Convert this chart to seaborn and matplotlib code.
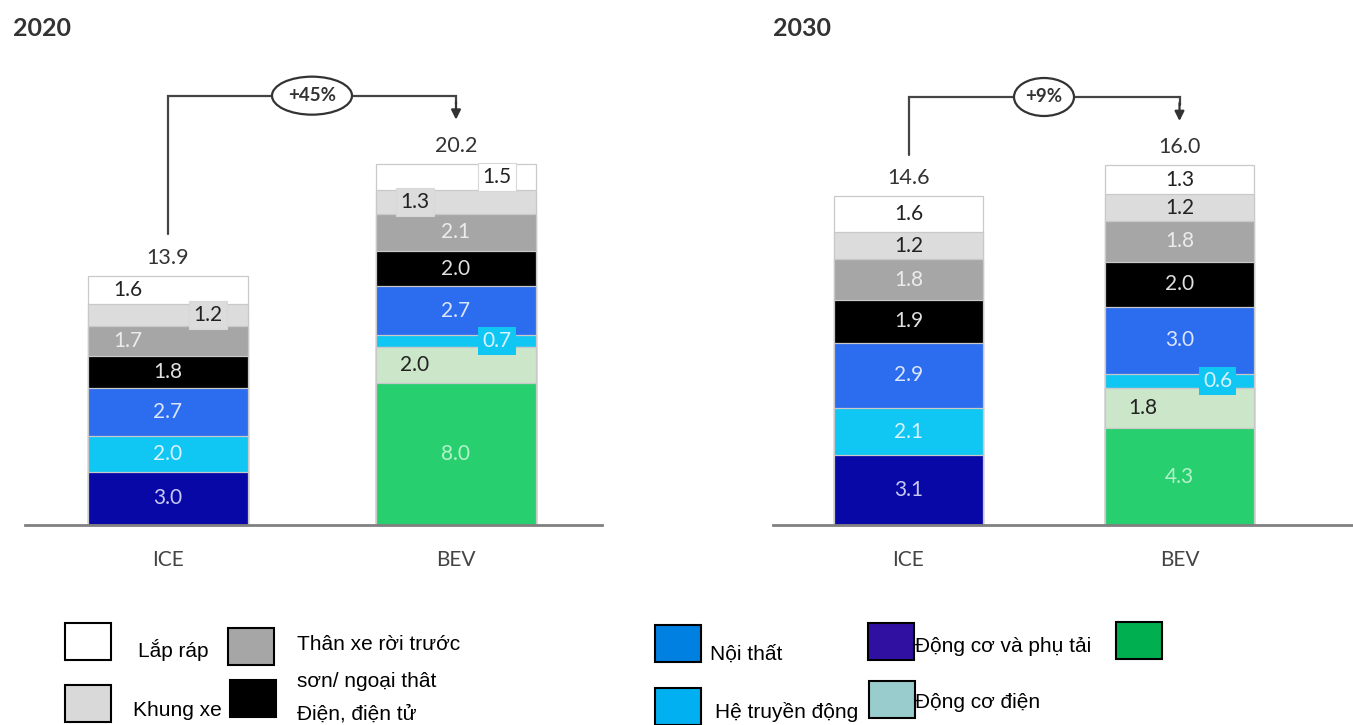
import numpy as np
import pandas as pd
import matplotlib
matplotlib.use("Agg")
import matplotlib.pyplot as plt
from matplotlib.patches import Ellipse, Rectangle
import seaborn as sns

# ---- data -------------------------------------------------------------
cars = ["ICE", "BEV"]
# components, bottom -> top
components = ["battery", "emotor", "engine", "transmission", "interior",
              "electrics", "body", "chassis", "assembly"]

vals_2020_ice = [0.0, 0.0, 3.0, 2.0, 2.7, 1.8, 1.7, 1.2, 1.6]
vals_2020_bev = [8.0, 2.0, 0.0, 0.7, 2.7, 2.0, 2.1, 1.3, 1.5]
vals_2030_ice = [0.0, 0.0, 3.1, 2.1, 2.9, 1.9, 1.8, 1.2, 1.6]
vals_2030_bev = [4.3, 1.8, 0.0, 0.6, 3.0, 2.0, 1.8, 1.2, 1.3]

totals_2020 = ["13.9", "20.2"]
totals_2030 = ["14.6", "16.0"]
change_2020 = "+45%"
change_2030 = "+9%"

bar_colors = {"battery": "#27cf6f", "emotor": "#cbe6c9", "engine": "#0808a6",
              "transmission": "#10c6f2", "interior": "#2c6cef",
              "electrics": "#000000", "body": "#a6a6a6", "chassis": "#dcdcdc",
              "assembly": "#ffffff"}
text_colors = {"battery": "#b4f2cc", "emotor": "#222222", "engine": "#c8c8f4",
               "transmission": "#d8f4ff", "interior": "#dde6ff",
               "electrics": "#e0e0e0", "body": "#ececec", "chassis": "#222222",
               "assembly": "#222222"}

legend_labels = ["Lắp ráp", "Khung xe", "Thân xe rời trước\nsơn/ ngoại thât",
                 "Điện, điện tử", "Nội thất", "Hệ truyền động",
                 "Động cơ và phụ tải", "Động cơ điện", ""]
legend_colors = ["#ffffff", "#d9d9d9", "#a6a6a6", "#000000", "#0080e0",
                 "#00b0f0", "#3010a0", "#99cccc", "#00b050"]

# label offsets (px, sideways) and whether the label has a box behind it
label_style = {
    ("2020", "ICE", "assembly"): (-40, False),
    ("2020", "ICE", "chassis"): (40, True),
    ("2020", "ICE", "body"): (-40, False),
    ("2020", "BEV", "assembly"): (41, True),
    ("2020", "BEV", "chassis"): (-41, True),
    ("2020", "BEV", "transmission"): (41, True),
    ("2020", "BEV", "emotor"): (-41, False),
    ("2030", "BEV", "transmission"): (38, True),
    ("2030", "BEV", "emotor"): (-37, False),
}

W, H = 1353, 725
fig = plt.figure(figsize=(W / 100, H / 100), dpi=100)
sns.set_style("white")
plt.rcParams["font.family"] = ["Lato", "DejaVu Sans"]

panels = [
    # year, values, totals, change, ax-left px, ax-right px, px/unit x, px/unit y, ICE centre px, bar width px, title x px
    ("2020", [vals_2020_ice, vals_2020_bev], totals_2020, change_2020, 25, 602, 288, 17.8, 168, 160, 13),
    ("2030", [vals_2030_ice, vals_2030_bev], totals_2030, change_2030, 773, 1353, 271, 22.5, 908.5, 149, 773),
]

base_px = 525
top_px = 20

for year, vals, totals, change, x0, x1, sx, sy, c0, bw, tx0 in panels:
    ax = fig.add_axes([x0 / W, (H - base_px) / H, (x1 - x0) / W, (base_px - top_px) / H])
    df = pd.DataFrame(np.array(vals).T, index=components, columns=cars)
    cum = df.cumsum()

    # overlay cumulative bars, top component first
    for comp in components[::-1]:
        d = pd.DataFrame({"car": cars, "top": cum.loc[comp].values})
        sns.barplot(data=d, x="car", y="top", order=cars, color=bar_colors[comp],
                    saturation=1, width=bw / sx, errorbar=None, ax=ax,
                    edgecolor="#c9c9c9", linewidth=0.9)

    ax.set_xlim((x0 - c0) / sx, (x1 - c0) / sx)
    ax.set_ylim(0, (base_px - top_px) / sy)
    sns.despine(ax=ax, left=True, top=True, right=True)
    ax.spines["bottom"].set_color("#808080")
    ax.spines["bottom"].set_linewidth(2)
    ax.set_yticks([])
    ax.set_xlabel("")
    ax.set_ylabel("")
    ax.tick_params(axis="x", length=0, pad=18, labelsize=15, labelcolor="#444444")

    # segment labels
    for i, car in enumerate(cars):
        bottom = 0.0
        for comp in components:
            v = df.loc[comp, car]
            if v > 0:
                dx, boxed = label_style.get((year, car, comp), (0, False))
                kw = {}
                if boxed:
                    kw["bbox"] = dict(boxstyle="square,pad=0.2", fc=bar_colors[comp],
                                      ec="#d8d8d8" if comp in ("assembly", "chassis") else "none",
                                      lw=0.8)
                ax.text(i + dx / sx, bottom + v / 2, f"{v:.1f}", ha="center", va="center",
                        fontsize=15, color=text_colors[comp], zorder=5, **kw)
            bottom += v
        ax.text(i, cum[car].iloc[-1] + 18 / sy, totals[i], ha="center", va="center",
                fontsize=15.5, color="#333333")

    # change arrow
    ice_top, bev_top = cum["ICE"].iloc[-1], cum["BEV"].iloc[-1]
    y_start = ice_top + 42 / sy
    y_lev = bev_top + 68 / sy
    y_tip = bev_top + 44 / sy
    ax.plot([0, 0, 1, 1], [y_start, y_lev, y_lev, y_lev - 8 / sy], color="#444444",
            lw=1.6, solid_joinstyle="miter", clip_on=False)
    ax.annotate("", xy=(1, y_tip), xytext=(1, y_lev - 6 / sy),
                arrowprops=dict(arrowstyle="-|>", color="#333333", lw=1.6,
                                mutation_scale=14, shrinkA=0, shrinkB=0))
    ow = 80 if len(change) > 3 else 60
    ax.add_patch(Ellipse((0.5, y_lev), ow / sx, 38 / sy, fc="white", ec="#333333",
                         lw=1.6, zorder=6, clip_on=False))
    ax.text(0.5, y_lev, change, ha="center", va="center", fontsize=13.5,
            fontweight="bold", color="#333333", zorder=7)

    fig.text(tx0 / W, 1 - 28 / H, year, ha="left", va="center", fontsize=18,
             fontweight="bold", color="#333333")

# ---- legend -----------------------------------------------------------
# box (left, top) px, text (x, y) px
legend_box = [(65, 623), (65, 685), (228, 628), (230, 680), (655, 625),
              (655, 688), (868, 623), (869, 681), (1116, 622)]
legend_txt = [(138, 650), (133, 711), (297, 663), (297, 714), (710, 654),
              (715, 712), (915, 647), (915, 703), (1170, 640)]
bw_px, bh_px = 46, 37
for lab, col, (bx, by), (tx, ty) in zip(legend_labels, legend_colors, legend_box, legend_txt):
    fig.patches.append(Rectangle((bx / W, 1 - (by + bh_px) / H), bw_px / W, bh_px / H,
                                 transform=fig.transFigure, fc=col, ec="black", lw=1.5))
    if lab:
        fig.text(tx / W, 1 - ty / H, lab, ha="left", va="center", fontsize=15,
                 linespacing=2.15, color="black",
                 family=["Liberation Sans", "DejaVu Sans"])

fig.savefig("out.png", dpi=100, facecolor="white")
